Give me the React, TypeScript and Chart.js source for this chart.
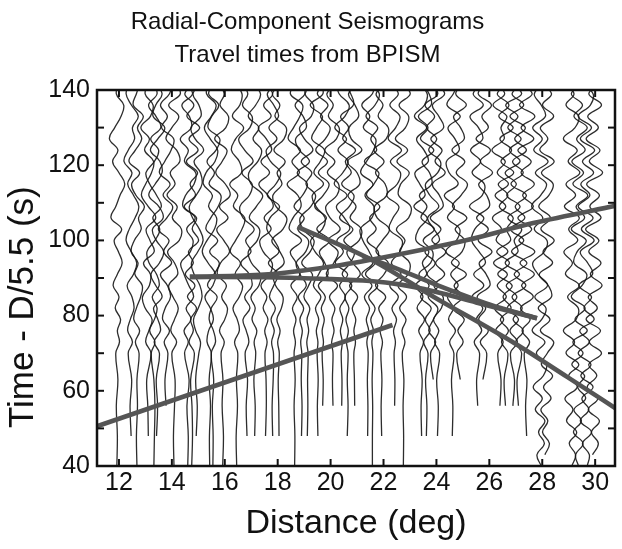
import React, { useEffect, useRef } from 'react';
import { Chart, registerables } from 'chart.js';

Chart.register(...registerables);

const TITLE_LINES = ['Radial-Component Seismograms', 'Travel times from BPISM'];
const X_TITLE = 'Distance (deg)';
const Y_TITLE = 'Time - D/5.5 (s)';
const X_TICKS = [12, 14, 16, 18, 20, 22, 24, 26, 28, 30];
const Y_TICKS = [40, 50, 60, 70, 80, 90, 100, 110, 120, 130, 140];
const Y_LABELED = [40, 60, 80, 100, 120, 140];

// sample times (s) for the traces
const TIMES = [40, 48, 56, 63, 70, 73, 76, 79, 82, 85, 88, 91, 94, 97, 100, 103, 106, 109, 112, 115, 118, 121, 124, 127, 130, 133, 136, 139, 142];
const TIMES_DENSE = [40, 43, 46, 49, 52, 55, 58, 61, 64, 67, 70, 73, 76, 79, 82, 85, 88, 91, 94, 97, 100, 103, 106, 109, 112, 115, 118, 121, 124, 127, 130, 133, 136, 139, 142];

// trace distances (deg)
const TRACE_DIST = [11.92, 12.45, 12.68, 13.09, 13.32, 13.43, 13.77, 14.08, 14.6, 14.75, 14.94, 15.43, 15.55, 15.92, 16.45, 16.83, 17.13, 17.55, 17.81, 18.04, 18.64, 18.9, 19.13, 19.51, 19.7, 20.08, 20.42, 20.64, 20.9, 21.4, 21.58, 21.92, 22.42, 22.75, 23.43, 23.62, 23.85, 24.05, 24.6, 24.87, 25.55, 25.8, 26.4, 26.6, 26.9, 27.1, 27.4];

// trace deflections (deg), aligned with the last samples of TIMES
const TRACE_WIGGLES = [
  [0, .02, -.02, .04, -.04, .1, .02, .14, -.06, .08, -.14, .02, .2, .06, -.1, .18, -.22, -.04, .12, .3, .08, -.16, .04, -.28, -.08, .16, .26, -.02, .1],
  [.01, -.03, .03, -.1, .06, -.12, -.02, .12, .04, -.14, .1, .22, .02, -.18, -.06, .16, .3, .1, -.12, .04, -.26, -.1, .14, .06, .28, .02, -.18, -.04],
  [0, -.02, .02, 0, .08, -.06, .1, -.12, -.02, .14, .2, -.08, .04, -.22, -.1, .16, .06, .28, -.04, -.2, .1, -.3, -.06, .18, .02, .24, -.14, -.02, .12],
  [.02, 0, -.04, .12, -.08, .04, .16, -.1, -.2, .06, .1, -.16, .24, .08, -.06, .3, .02, -.24, -.08, .14, .22, -.12, .06, -.26, .1, .2, -.1, .04],
  [0, .02, .04, 0, -.1, .04, -.16, .02, .12, -.06, .2, .1, -.18, -.26, .04, .22, -.04, .28, .1, -.16, -.3, .02, .18, -.12, .26, .08, -.2, .12, -.06],
  [-.01, .03, -.02, .1, -.1, .14, .04, -.12, .2, -.04, -.22, .1, .26, -.02, -.16, .24, .08, -.3, -.06, .2, .12, -.24, .04, .3, -.14, -.04, .2, -.1],
  [.01, -.03, .08, -.06, .14, -.12, -.02, .18, .06, -.2, .22, -.08, .12, -.28, .04, .26, -.1, .16, -.24, -.04, .2, .3, -.16, .06, -.2, .14, .24],
  [0, -.02, .02, .04, -.08, .1, -.12, .02, .16, -.04, -.2, .14, .02, -.24, .2, .28, -.06, .12, -.26, .04, -.14, .22, .1, -.3, -.08, .18, -.2, .24, .02],
  [0, .02, -.03, .05, -.12, .02, -.14, .12, -.06, .22, .04, -.14, -.26, .1, .2, -.04, .28, -.18, -.08, .24, .3, -.12, .02, -.28, .14, .06, -.22, .18, -.12],
  [0, .03, .01, -.04, .1, -.1, .06, -.04, .18, -.16, .12, -.24, .06, -.12, .26, .02, .18, -.28, .14, -.06, .22, -.2, .24, -.1, .3, -.18, .08, -.26, .16],
  [-.02, .02, -.04, .08, .14, -.04, -.12, .06, .2, .12, -.1, -.2, .04, .24, .1, -.16, -.28, -.02, .2, .14, -.1, .26, -.06, -.22, .16, .08, -.14, .2],
  [0, -.01, .03, -.02, .06, -.1, -.04, .14, .02, -.18, .12, .22, -.06, -.28, -.1, .18, .26, -.04, .1, -.24, -.14, .2, .3, .02, -.2, .06, .24, -.12, -.02],
  [0, .01, -.02, .03, -.06, .1, .02, -.14, -.06, .16, -.2, .04, .24, -.12, .18, -.26, -.08, .2, .3, -.14, .06, -.22, .12, .26, -.18, -.04, .22, -.16, .1],
  [0, .03, -.02, .01, -.06, .06, -.12, .08, .18, -.04, .14, -.2, -.08, .26, .04, -.22, .2, -.12, .28, .1, -.26, -.02, .16, -.3, .12, .22, -.1, .06, -.2],
  [0, -.02, .03, -.01, .04, -.08, .1, .02, -.14, .1, .22, -.06, .14, -.24, -.04, .2, .3, -.12, .04, -.26, .18, .1, -.2, -.04, .26, -.16, .12, .2, -.1],
  [.01, -.02, .03, -.06, .08, -.02, -.14, .12, -.08, .2, .1, -.22, .16, -.04, .28, -.14, -.26, .1, .2, -.18, .24, -.08, -.3, .12, .2, -.16, .04, -.22],
  [0, .02, -.03, .04, -.02, .08, -.1, .02, -.14, .16, .22, -.12, -.24, .1, .18, -.2, .06, .3, -.14, -.22, .12, .26, -.06, .16, -.24, .04, .22, -.12],
  [-.01, .02, .01, -.03, .05, -.04, .08, -.1, .04, -.18, .16, .24, -.1, -.22, .2, -.06, .28, .08, -.26, .14, -.18, .22, .02, -.28, .2, -.08, .26, -.14],
  [0, -.02, .02, .03, -.04, .06, -.06, .1, -.12, .04, .2, -.16, .24, .06, -.22, -.1, .26, -.2, .12, .3, -.08, -.24, .16, -.14, .22, .04, -.2, .24],
  [.01, 0, -.02, .02, -.04, .05, -.07, .1, .16, -.12, -.2, .2, .04, -.26, .16, .3, -.1, -.22, .12, -.06, .24, -.18, .2, .28, -.14, .04, -.24, .18],
  [0, .01, -.02, .02, -.02, .03, -.04, .05, -.08, .1, -.14, .2, .06, -.16, .26, -.2, -.06, .24, .12, -.28, .18, -.1, .22, -.24, -.04, .2, .3, -.16, .08],
  [0, .02, -.01, .01, -.03, .03, -.06, .08, -.12, .18, -.06, -.2, .16, .26, -.14, .1, -.28, .04, .22, -.16, .3, -.08, -.22, .18, .06, -.24, .14, .2],
  [-.01, .01, 0, .02, -.03, .04, -.02, .08, -.14, .04, .18, -.22, .1, .24, -.18, -.28, .12, .3, -.06, .16, -.24, .2, -.12, -.3, .14, .22, -.1, .04],
  [.01, -.01, .02, -.02, .01, -.05, .04, -.08, .12, -.16, .04, .22, -.1, -.26, .18, .28, -.06, -.2, .22, -.14, .1, .26, -.22, -.04, .18, -.28, .2, .08],
  [0, .02, -.02, .03, -.02, .06, -.05, .1, -.16, .2, .08, -.12, .26, -.22, .14, -.3, .02, .24, -.16, .18, -.26, .1, .28, -.08, .2, -.2, .14],
  [.01, -.01, .01, -.04, .05, -.03, .08, -.12, .18, -.24, .04, .2, -.18, .28, -.1, -.26, .16, .22, -.2, .08, -.3, .14, .24, -.16, .02, -.22, .26],
  [0, .01, -.02, .02, -.05, .04, -.07, .14, -.08, .22, -.24, .06, -.18, .3, .1, -.2, .2, -.28, .04, .24, -.14, .18, -.26, .12, .28, -.1, -.2],
  [-.01, .02, -.01, .02, -.04, .03, -.06, .05, -.1, .16, -.2, .1, .26, -.14, .2, -.3, .06, .24, -.22, .14, -.08, .3, -.18, .04, -.26, .22, .12, -.16],
  [.01, 0, -.02, .04, -.02, .05, -.08, .12, -.18, .22, -.06, -.28, .18, .26, -.16, .06, -.24, .2, .1, -.26, .28, -.12, -.2, .16, .02, -.22, .24],
  [0, .01, -.01, .02, -.03, .04, -.05, .07, -.12, .16, -.22, .2, .06, -.18, -.28, .16, .24, -.1, .2, -.26, -.04, .22, .3, -.16, .08, -.22, .18, .26],
  [0, 0, .01, -.01, .02, -.02, .04, -.06, .1, -.14, .2, -.26, .12, .22, -.2, .14, -.1, .28, -.22, .06, .24, -.3, .16, -.06, .2, -.24, .1, .26, -.12],
  [.01, -.01, .02, -.02, .04, -.05, .06, -.1, .16, -.22, .1, .26, -.2, .04, .3, -.16, -.26, .2, .14, -.22, .1, -.28, .18, .26, -.12, .06, -.2, .24],
  [0, .01, -.02, .03, -.04, .07, -.1, .14, -.18, .24, -.12, .2, .28, -.2, -.06, .16, -.3, .1, .22, -.16, .26, -.24, .04, .2, -.18, .14, -.22],
  [0, .01, -.01, .02, -.04, .06, -.05, .1, -.14, .12, -.2, .18, .24, -.14, .06, -.26, .2, .28, -.18, -.1, .22, -.24, .16, -.3, .08, .2, -.16, .26, -.1],
  [.01, -.01, .03, -.05, .08, -.1, .12, -.16, .06, -.22, .2, .04, .28, -.2, -.1, .22, -.28, .14, -.06, -.24, .26, .1, -.18, .2, -.26, .12, .22, -.14],
  [0, .02, -.03, .06, -.1, .14, -.04, .18, -.22, .1, -.28, .16, .24, -.12, .3, -.2, .02, -.26, .2, .12, -.16, .28, -.22, .06, -.3, .18, .1, -.2],
  [.03, -.07, .12, -.14, .04, .2, -.16, .22, -.2, .1, -.28, .26, .06, -.18, .24, -.1, -.26, .2, .3, -.14, .16, -.22, .08, -.28, .2, -.12],
  [-.01, .02, -.04, .07, -.12, .04, -.16, .14, .2, -.14, .26, -.08, .3, -.22, .12, -.28, .2, .06, -.2, .28, -.1, .16, -.26, .22, .04, -.2, .26, -.14],
  [0, .02, -.03, .06, -.1, .12, -.14, .04, -.18, .22, -.06, .26, -.24, .16, .28, -.18, .08, -.3, .22, -.12, -.22, .26, .1, -.16, .3, -.2, .04, .24],
  [.03, -.1, .14, -.06, .18, -.24, .12, -.2, .26, -.3, .1, .2, -.16, .28, -.26, .06, .3, -.12, .2, -.28, .18, .04, -.22, .26, -.14, .2],
  [.01, -.03, .08, -.12, .16, -.04, .2, -.2, .24, -.14, .3, .06, -.22, -.1, .24, -.3, .18, .26, -.2, .12, -.26, .2, .04, -.28, .22, -.16, .28],
  [-.04, .1, -.14, .16, -.2, .06, -.26, .22, .08, -.18, .3, -.22, .16, -.28, .2, .1, -.2, .32, -.14, .24, -.3, .16, -.08, .28, -.22, .14],
  [0, .04, -.08, .12, -.16, .14, -.2, .24, -.1, .28, -.24, .3, -.14, .06, -.28, .22, -.18, .32, -.1, .2, -.3, .16, .04, .26, -.26, .18, -.22],
  [.01, -.04, .1, -.14, .12, -.18, .22, -.08, .26, -.28, .16, -.32, .2, .06, .3, -.22, .1, -.26, .32, -.16, .24, -.2, .3, -.24, .14, -.3, .2],
  [-.01, .05, -.1, .16, -.12, .2, -.22, .14, -.26, .24, -.3, .18, .04, .32, -.2, .26, -.24, .12, -.3, .26, -.14, .3, -.2, .18, -.28, .32, -.16],
  [0, -.05, .12, -.1, .18, -.2, .14, -.24, .28, -.16, .32, -.26, .2, -.3, .24, -.12, .3, -.28, .18, -.22, .3, -.14, .26, -.32, .2, -.24, .28],
  [.01, -.03, .02, -.08, .12, -.16, .14, -.22, .26, -.18, .3, -.24, .32, -.28, .2, -.32, .26, -.14, .3, -.2, .18, -.32, .28, -.2, .32, -.26, .22, -.3],
];

// far traces, sampled on TIMES_DENSE
const RIGHT_DIST = [27.9, 28.15, 29.1, 29.4, 29.66, 29.96];
const RIGHT_WIGGLES = [
  [.06, -.1, .18, -.04, .2, -.16, .1, -.24, .14, .26, -.12, .2, -.28, .08, .24, -.18, .3, -.06, -.26, .18, .28, -.2, .12, -.3, .04, .26, -.16, .32, -.22, .1, -.26, .22, .06, -.2, .24],
  [-.05, .12, -.14, .06, -.2, .18, -.1, .24, -.18, .04, .28, -.22, .14, -.3, .2, .08, -.26, .24, -.12, .3, -.2, .16, -.28, .1, .26, -.18, .3, -.24, .06, -.22, .28, -.14, .2, -.26],
  [.02, .16, -.08, .2, -.18, .06, -.24, .22, -.1, .28, -.2, .12, -.3, .18, .26, -.14, .3, -.22, .04, -.28, .24, -.1, .3, -.26, .16, -.2, .32, -.12, .22, -.3, .14, .28, -.2, .1, -.26],
  [-.03, -.14, .14, -.22, .08, -.2, .24, -.06, .2, -.28, .14, -.24, .3, -.16, .22, -.3, .1, .28, -.2, -.08, .26, -.3, .2, -.12, .32, -.24, .16, -.28, .22, -.1, .3, -.2, .12, -.3, .18],
  [.04, .12, -.14, .2, -.22, .1, -.16, .26, -.2, .18, -.3, .12, -.24, .3, -.08, .2, -.28, .24, .06, -.22, .3, -.18, .26, -.3, .14, -.2, .28, -.14, .32, -.22, .2, -.3, .16, .26, -.2],
  [-.06, .16, -.1, .2, -.22, .14, -.26, .1, -.2, .28, -.18, .24, -.3, .12, -.22, .3, -.14, .26, -.2, .18, -.32, .26, -.16, .2, -.28, .32, -.18, .22, -.3, .16, -.24, .28, -.2, .3],
];

// travel-time curves (distance deg, time s)
const CURVE_P_X = [11.1, 22.34];
const CURVE_P_T = [50.4, 77.5];
const CURVE_UP_X = [14.68, 17.5, 19.6, 21.47, 23.5, 25.16, 27.66, 30.9];
const CURVE_UP_T = [90.3, 90.9, 92.6, 94.8, 97.6, 100.1, 104.6, 109.4];
const CURVE_FLAT_X = [14.68, 17.5, 19.6, 21.5, 22.6, 23.92, 25.5, 27.8];
const CURVE_FLAT_T = [90.3, 90.2, 89.8, 89.2, 88.3, 86.4, 83.5, 79.3];
const CURVE_MID_X = [21.2, 22.5, 24.0, 26.0, 27.8];
const CURVE_MID_T = [95.8, 92.5, 88.2, 83.0, 79.3];
const CURVE_STEEP_X = [18.75, 21.55, 23.92, 26.94, 28.94, 31.0];
const CURVE_STEEP_T = [103.6, 94.8, 84.9, 72.7, 63.7, 54.3];

const FONT = "'Liberation Sans', Arial, sans-serif";

function tracePoints(d: number, wig: number[], times: number[]) {
  const off = Math.max(0, times.length - wig.length);
  return wig.slice(0, times.length).map((w, k) => ({ x: d + w, y: times[off + k] }));
}

function curve(xs: number[], ts: number[]) {
  return xs.map((x, i) => ({ x, y: ts[i] }));
}

const framePlugin = {
  id: 'frameTicks',
  afterDatasetsDraw(chart: any) {
    const { ctx, chartArea, scales } = chart;
    const { left, right, top, bottom } = chartArea;
    const xs = scales.x;
    const ys = scales.y;
    ctx.save();
    ctx.strokeStyle = '#111';
    ctx.lineWidth = 2;
    const seg = (a: number, b: number, c: number, d: number) => {
      ctx.beginPath();
      ctx.moveTo(a, b);
      ctx.lineTo(c, d);
      ctx.stroke();
    };
    X_TICKS.forEach((v) => {
      const px = xs.getPixelForValue(v);
      seg(px, bottom, px, bottom - 7);
      seg(px, top, px, top + 7);
    });
    Y_TICKS.forEach((v) => {
      const py = ys.getPixelForValue(v);
      seg(left, py, left + 7, py);
      seg(right, py, right - 7, py);
    });
    ctx.lineWidth = 2.5;
    ctx.strokeRect(left, top, right - left, bottom - top);
    ctx.restore();
  },
};

export default function App() {
  const ref = useRef<HTMLCanvasElement | null>(null);

  useEffect(() => {
    if (!ref.current) return;
    const curveStyle = {
      showLine: true,
      borderColor: '#555555',
      borderWidth: 4.6,
      pointRadius: 0,
      cubicInterpolationMode: 'monotone',
      order: 0,
      clip: 0,
    };
    const traceStyle = {
      showLine: true,
      borderColor: 'rgba(22,22,22,0.9)',
      borderWidth: 1.3,
      pointRadius: 0,
      tension: 0.4,
      order: 1,
      clip: 0,
    };
    const datasets: any[] = [
      { label: 'P', data: curve(CURVE_P_X, CURVE_P_T), ...curveStyle },
      { label: 'rising', data: curve(CURVE_UP_X, CURVE_UP_T), ...curveStyle },
      { label: 'flat', data: curve(CURVE_FLAT_X, CURVE_FLAT_T), ...curveStyle },
      { label: 'middle', data: curve(CURVE_MID_X, CURVE_MID_T), ...curveStyle },
      { label: 'steep', data: curve(CURVE_STEEP_X, CURVE_STEEP_T), ...curveStyle },
    ];
    TRACE_DIST.forEach((d, i) => {
      datasets.push({ label: 'trace ' + d, data: tracePoints(d, TRACE_WIGGLES[i], TIMES), ...traceStyle });
    });
    RIGHT_DIST.forEach((d, i) => {
      datasets.push({ label: 'trace ' + d, data: tracePoints(d, RIGHT_WIGGLES[i], TIMES_DENSE), ...traceStyle });
    });

    const chart = new Chart(ref.current, {
      type: 'scatter',
      data: { datasets },
      options: {
        animation: false,
        responsive: false,
        devicePixelRatio: 1,
        layout: { padding: { left: 0, right: 7, top: 0, bottom: 0 } },
        plugins: {
          legend: { display: false },
          tooltip: { enabled: false },
          title: {
            display: true,
            text: TITLE_LINES,
            color: '#111',
            font: { family: FONT, size: 24, weight: 'normal', lineHeight: 1.375 },
            padding: { top: 6, bottom: 18 },
          },
        },
        scales: {
          x: {
            type: 'linear',
            min: 11.17,
            max: 30.75,
            afterBuildTicks: (s: any) => {
              s.ticks = X_TICKS.map((v) => ({ value: v }));
            },
            afterFit: (s: any) => {
              s.height = 83;
            },
            ticks: {
              autoSkip: false,
              maxRotation: 0,
              padding: 2.4,
              color: '#111',
              font: { family: FONT, size: 25 },
            },
            grid: { display: false, drawTicks: false },
            border: { display: false },
            title: {
              display: true,
              text: X_TITLE,
              color: '#111',
              font: { family: FONT, size: 34, lineHeight: 1.2 },
              padding: { top: 1.7, bottom: 5.1 },
            },
          },
          y: {
            type: 'linear',
            min: 40,
            max: 140,
            afterBuildTicks: (s: any) => {
              s.ticks = Y_TICKS.map((v) => ({ value: v }));
            },
            afterFit: (s: any) => {
              s.width = 97;
            },
            ticks: {
              autoSkip: false,
              padding: 7,
              color: '#111',
              font: { family: FONT, size: 25 },
              callback: (v: any) => (Y_LABELED.includes(Number(v)) ? String(v) : ''),
            },
            grid: { display: false, drawTicks: false },
            border: { display: false },
            title: {
              display: true,
              text: Y_TITLE + '      ',
              color: '#111',
              font: { family: FONT, size: 35, lineHeight: 1.2 },
              padding: { top: 2.5, bottom: 0 },
            },
          },
        },
      },
      plugins: [framePlugin],
    } as any);
    return () => chart.destroy();
  }, []);

  return (
    <div style={{ position: 'absolute', left: 0, top: 0, width: 622, height: 549, background: '#fff' }}>
      <canvas ref={ref} width={622} height={549} style={{ display: 'block', width: 622, height: 549 }} />
    </div>
  );
}
